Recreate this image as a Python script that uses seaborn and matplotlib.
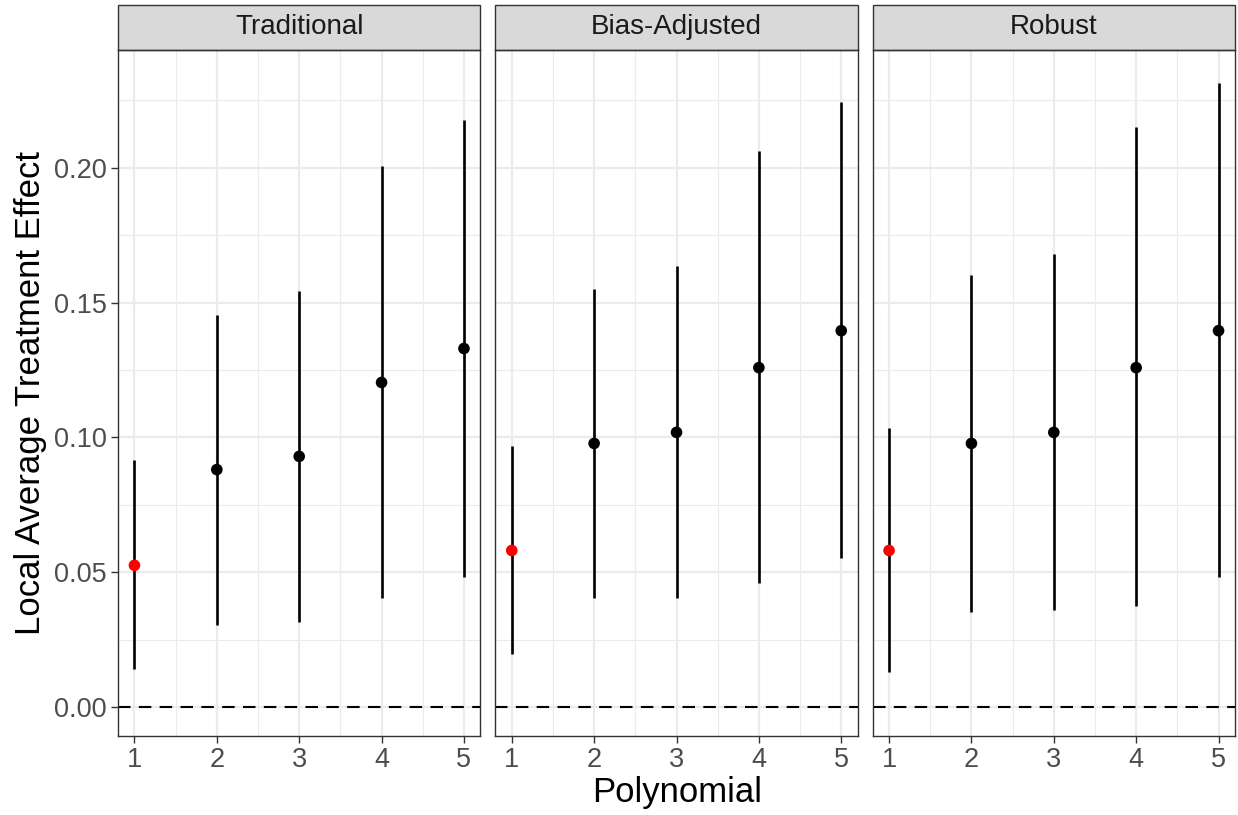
import matplotlib
matplotlib.use("Agg")
import matplotlib.pyplot as plt
import seaborn as sns
import pandas as pd
import numpy as np
from matplotlib.patches import Rectangle
from matplotlib.ticker import FixedLocator

sns.set_theme(style="white")
plt.rcParams['font.family'] = ['Liberation Sans', 'DejaVu Sans']

methods = ["Traditional", "Bias-Adjusted", "Robust"]
polynomial = [1, 2, 3, 4, 5]
est_traditional = [0.0526, 0.0881, 0.0930, 0.1204, 0.1330]
lo_traditional = [0.0141, 0.0304, 0.0315, 0.0404, 0.0481]
hi_traditional = [0.0915, 0.1456, 0.1544, 0.2007, 0.2178]
est_bias = [0.0581, 0.0978, 0.1019, 0.1259, 0.1396]
lo_bias = [0.0196, 0.0404, 0.0404, 0.0459, 0.0552]
hi_bias = [0.0970, 0.1552, 0.1637, 0.2063, 0.2244]
est_robust = [0.0581, 0.0978, 0.1019, 0.1259, 0.1396]
lo_robust = [0.0130, 0.0352, 0.0359, 0.0374, 0.0481]
hi_robust = [0.1037, 0.1604, 0.1681, 0.2152, 0.2315]

ests = [est_traditional, est_bias, est_robust]
los = [lo_traditional, lo_bias, lo_robust]
his = [hi_traditional, hi_bias, hi_robust]

rows = []
for m, e, l, h in zip(methods, ests, los, his):
    for p, ee, ll, hh in zip(polynomial, e, l, h):
        rows.append(dict(method=m, poly=p, est=ee, lo=ll, hi=hh,
                         chosen="yes" if p == 1 else "no"))
df = pd.DataFrame(rows)

fig, axes = plt.subplots(1, 3, figsize=(12.38, 8.15), dpi=100, sharey=True)
fig.subplots_adjust(left=0.0953, right=0.9976, top=0.9387, bottom=0.0969, wspace=0.041)

grey20 = "#333333"
for ax, m in zip(axes, methods):
    d = df[df.method == m]
    ax.set_facecolor("white")
    ax.set_xlim(0.8, 5.2)
    ax.set_ylim(-0.0107, 0.2437)
    ax.xaxis.set_major_locator(FixedLocator(polynomial))
    ax.xaxis.set_minor_locator(FixedLocator([1.5, 2.5, 3.5, 4.5]))
    ax.yaxis.set_major_locator(FixedLocator([0, 0.05, 0.10, 0.15, 0.20]))
    ax.yaxis.set_minor_locator(FixedLocator([0.025, 0.075, 0.125, 0.175, 0.225]))
    ax.grid(True, which="major", color="#EBEBEB", lw=1.6)
    ax.grid(True, which="minor", color="#EBEBEB", lw=0.8)
    ax.set_axisbelow(True)
    ax.axhline(0, color="black", ls=(0, (6, 4)), lw=1.5, zorder=2)
    ax.vlines(d.poly, d.lo, d.hi, color="black", lw=1.9, zorder=3)
    sns.scatterplot(data=d, x="poly", y="est", hue="chosen",
                    palette={"yes": "#FF0000", "no": "black"},
                    s=70, edgecolor="none", legend=False, ax=ax, zorder=4)
    for sp in ax.spines.values():
        sp.set_color(grey20)
        sp.set_linewidth(1.0)
    ax.tick_params(axis="both", which="major", length=5, width=1, color=grey20,
                   labelsize=19.5, labelcolor="#4D4D4D", pad=3, bottom=True, left=True)
    ax.tick_params(axis="both", which="minor", length=0)
    ax.set_xticklabels([str(p) for p in polynomial])
    ax.set_xlabel("")
    ax.set_ylabel("")
    # strip
    sh = 45 / 686
    ax.add_patch(Rectangle((0, 1), 1, sh, transform=ax.transAxes, clip_on=False,
                           facecolor="#D9D9D9", edgecolor=grey20, lw=1.0))
    ax.text(0.5, 1 + sh / 2, m, transform=ax.transAxes, ha="center", va="center",
            fontsize=20, color="#1A1A1A")

axes[0].set_yticklabels(["0.00", "0.05", "0.10", "0.15", "0.20"])
for ax in axes[1:]:
    ax.tick_params(axis="y", which="major", left=False, labelleft=False)

fig.text(0.5466, 0.027, "Polynomial", ha="center", va="center", fontsize=25, color="black")
fig.text(0.025, 0.5174, "Local Average Treatment Effect", rotation=90, ha="center",
         va="center", fontsize=25, color="black")

fig.savefig("out.png", dpi=100)
